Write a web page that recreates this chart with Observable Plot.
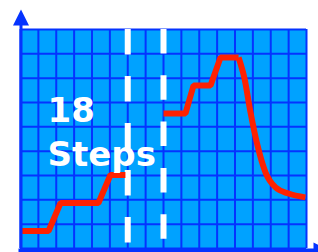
<!DOCTYPE html>
<html><head><meta charset="utf-8">
<script src="https://cdn.jsdelivr.net/npm/d3@7"></script>
<script src="https://cdn.jsdelivr.net/npm/@observablehq/plot@0.6"></script>
<style>html,body{margin:0;padding:0;background:#fff}</style>
</head><body><div id="chart"></div>
<script>
// Step segments (before and after the interval)
const stepX   = [0, 1.57, 2.24, 4.36, 5.03, 5.87,   8.0, 9.23, 9.68, 10.63, 11.19, 12.2];
const stepY   = [0.72, 0.72, 1.87, 1.87, 3.02, 3.02, 5.55, 5.55, 6.70, 6.70, 7.85, 7.85];
const stepSeg = ["a","a","a","a","a","a","b","b","b","b","b","b"];
// Decay tail after the peak
const tailX = [12.2, 12.53, 12.87, 13.26, 13.71, 14.27, 14.99, 15.94];
const tailY = [7.85, 6.99, 5.59, 4.23, 3.12, 2.51, 2.26, 2.10];
// Interval markers
const intervalX = [6, 8];
// Label
const labelText = ["18\nSteps"];

const steps = stepX.map((x, i) => ({x, y: stepY[i], seg: stepSeg[i]}));
const tail = tailX.map((x, i) => ({x, y: tailY[i]}));

const BLUE = "#0533ff", FILL = "#00a2ff", RED = "#ff2200";
const arrowUp = {draw(c) { c.moveTo(0, -8); c.lineTo(8, 8); c.lineTo(-8, 8); c.closePath(); }};
const arrowRight = {draw(c) { c.moveTo(8, 0); c.lineTo(-8, 8); c.lineTo(-8, -8); c.closePath(); }};

const chart = Plot.plot({
  width: 318, height: 252,
  marginLeft: 20, marginRight: 12, marginTop: 29, marginBottom: 4,
  x: {domain: [0, 16], axis: null},
  y: {domain: [0, 9], axis: null},
  marks: [
    Plot.frame({fill: FILL, stroke: null}),
    Plot.gridX(d3.range(0, 17), {stroke: BLUE, strokeOpacity: 1, strokeWidth: 2}),
    Plot.gridY(d3.range(0, 10), {stroke: BLUE, strokeOpacity: 1, strokeWidth: 2}),
    Plot.ruleX([intervalX[0]], {y1: 9, y2: 0, stroke: "white", strokeWidth: 6, strokeDasharray: "25.5,21.5"}),
    Plot.ruleX([intervalX[1]], {y1: 9, y2: 0, stroke: "white", strokeWidth: 6, strokeDasharray: "24.5,21.8"}),
    Plot.line(steps, {x: "x", y: "y", z: "seg", stroke: RED, strokeWidth: 6, strokeLinejoin: "miter", strokeLinecap: "butt"}),
    Plot.line(tail, {x: "x", y: "y", curve: "monotone-x", stroke: RED, strokeWidth: 6, strokeLinejoin: "round", strokeLinecap: "butt"}),
    Plot.text(labelText, {frameAnchor: "top-left", textAnchor: "start", lineAnchor: "top", lineHeight: 1.3,
      dx: 27, dy: 61, fill: "white", fontSize: 34, fontWeight: "bold", fontFamily: "DejaVu Sans"}),
    Plot.ruleX([0], {y1: 0, y2: 9.3, stroke: BLUE, strokeWidth: 3, dx: 0.5}),
    Plot.ruleY([0], {x1: 0, x2: 16.6, stroke: BLUE, strokeWidth: 4, dy: 2, dx: -1.5}),
    Plot.dot([0], {x: 0, y: 9, dx: 0.5, dy: -12, symbol: arrowUp, fill: BLUE, stroke: null, r: 8}),
    Plot.dot([0], {x: 16, y: 0, dx: 15, dy: 2, symbol: arrowRight, fill: BLUE, stroke: null, r: 8})
  ]
});
document.getElementById("chart").appendChild(chart);
</script>
</body></html>
